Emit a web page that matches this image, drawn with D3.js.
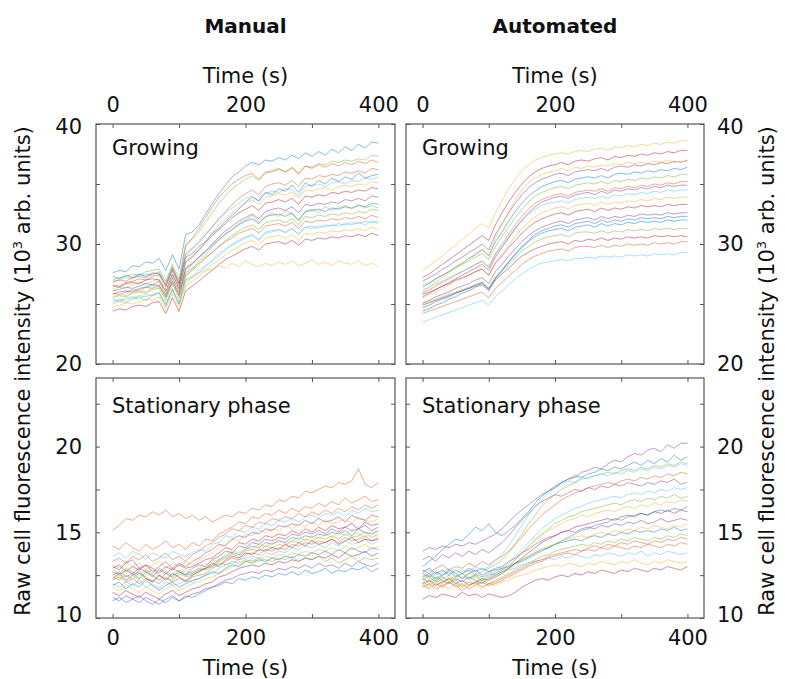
<!DOCTYPE html>
<html>
<head>
<meta charset="utf-8">
<script src="https://cdn.jsdelivr.net/npm/d3@7"></script>
<style>
  body { margin: 0; background: #fff; }
  svg text { font-family: "DejaVu Sans", Verdana, sans-serif; fill: #111; }
</style>
</head>
<body>
<svg id="fig" width="785" height="679"></svg>
<script>
// time points (s), shared by every trace
var times = [0,10,20,30,40,50,60,70,80,90,100,110,120,130,140,150,160,170,180,190,200,
             210,220,230,240,250,260,270,280,290,300,310,320,330,340,350,360,370,380,390,400];

var xTicks = [0,100,200,300,400], xLabels = [0,200,400];
var yTicksGrow = [20,25,30,35,40], yLabelsGrow = [20,30,40];
var yTicksStat = [10,12.5,15,17.5,20,22.5], yLabelsStat = [10,15,20];
var colTitles = ['Manual','Automated'];
var rowTitles = ['Growing','Stationary phase'];
var lineColors = ['#0072BD','#D95319','#EDB120','#7E2F8E','#77AC30','#4DBEEE','#A2142F'];

// Manual, growing (10^3 arb. units)
var growManual = [
 [27.6,27.8,27.7,28.2,28.1,28.5,28.4,28.8,27.8,29.1,27.9,30.8,31.0,31.6,32.5,33.4,34.2,34.9,35.6,36.0,36.5,36.8,36.6,37.0,36.9,37.2,37.0,37.4,37.1,37.6,37.3,37.7,37.4,37.9,37.6,38.1,37.8,38.3,38.0,38.5,38.4],
 [27.0,27.2,27.3,27.5,27.4,27.7,27.8,27.9,26.9,28.3,27.1,30.0,30.4,31.0,31.8,32.6,33.4,34.0,34.6,35.0,35.4,35.7,35.3,35.9,36.0,36.2,36.0,36.3,35.8,36.5,36.4,36.7,36.6,36.9,36.8,37.0,36.9,37.1,37.0,37.4,37.3],
 [26.6,26.5,26.8,26.9,27.1,27.0,27.3,27.4,26.4,27.8,26.5,29.1,29.6,30.1,30.8,31.4,32.1,32.7,33.3,33.8,34.2,34.5,34.1,34.8,35.0,35.1,34.9,35.3,34.8,35.5,35.4,35.7,35.6,35.8,35.7,36.0,35.9,36.1,35.9,36.3,36.2],
 [26.9,27.0,27.2,27.1,27.4,27.5,27.4,27.7,26.8,28.0,26.9,29.2,29.7,30.3,30.8,31.5,32.1,32.6,33.0,33.4,33.8,34.0,33.6,34.2,34.4,34.3,34.6,34.5,34.0,34.8,34.9,35.0,34.8,35.1,35.2,35.0,35.3,35.2,35.5,35.4,35.6],
 [26.2,26.4,26.3,26.6,26.8,26.7,26.9,27.1,26.0,27.4,26.2,28.6,29.0,29.6,30.2,30.9,31.6,32.1,32.6,33.1,33.4,33.7,33.3,33.9,34.0,34.2,34.1,34.3,33.8,34.5,34.4,34.6,34.7,34.5,34.8,34.9,34.8,35.0,34.9,35.2,35.1],
 [26.5,26.4,26.7,26.8,26.7,27.0,27.1,27.0,26.1,27.5,26.3,28.5,28.9,29.5,30.1,30.7,31.2,31.7,32.2,32.6,32.9,33.2,32.8,33.4,33.5,33.7,33.5,33.8,33.3,34.0,33.9,34.1,34.0,34.3,34.2,34.4,34.3,34.5,34.4,34.7,34.6],
 [25.8,26.0,26.1,26.0,26.3,26.4,26.6,26.5,25.6,26.9,25.7,27.9,28.3,28.9,29.4,30.0,30.6,31.1,31.5,31.9,32.2,32.5,32.1,32.7,32.9,33.0,32.8,33.1,32.6,33.3,33.2,33.4,33.3,33.5,33.4,33.7,33.6,33.8,33.6,34.0,33.9],
 [26.1,26.2,26.4,26.3,26.5,26.7,26.6,26.9,25.8,27.2,26.0,28.0,28.4,28.9,29.4,29.9,30.4,30.8,31.2,31.6,31.9,32.1,31.7,32.3,32.4,32.5,32.3,32.6,32.0,32.7,32.8,32.9,32.7,33.0,32.9,33.1,33.0,33.2,33.1,33.4,33.3],
 [25.5,25.7,25.6,25.9,26.0,25.9,26.2,26.3,25.3,26.7,25.5,27.4,27.8,28.3,28.8,29.3,29.8,30.3,30.7,31.1,31.4,31.6,31.2,31.8,31.9,32.0,31.8,32.1,31.6,32.3,32.2,32.4,32.3,32.5,32.4,32.6,32.5,32.7,32.6,32.9,32.8],
 [25.9,25.8,26.0,26.2,26.1,26.4,26.3,26.6,25.6,26.9,25.8,27.6,28.0,28.4,28.9,29.3,29.8,30.2,30.5,30.9,31.1,31.3,30.9,31.5,31.6,31.7,31.5,31.8,31.3,31.9,31.8,32.0,31.9,32.1,32.0,32.2,32.1,32.3,32.1,32.4,32.2],
 [25.2,25.4,25.3,25.5,25.7,25.6,25.8,26.0,25.0,26.3,25.1,27.0,27.3,27.8,28.2,28.7,29.2,29.6,30.0,30.3,30.6,30.8,30.4,31.0,31.1,31.2,31.0,31.3,30.8,31.4,31.3,31.5,31.4,31.6,31.5,31.7,31.6,31.8,31.6,31.9,31.7],
 [24.8,24.9,25.1,25.0,25.2,25.4,25.3,25.6,24.6,25.9,24.8,26.5,26.9,27.3,27.8,28.3,28.7,29.1,29.5,29.8,30.1,30.3,29.9,30.5,30.6,30.7,30.5,30.8,30.3,30.9,30.8,31.0,30.9,31.1,31.0,31.2,31.1,31.3,31.1,31.4,31.2],
 [24.4,24.6,24.5,24.8,24.9,24.8,25.1,25.2,24.2,25.5,24.4,26.1,26.5,26.9,27.4,27.8,28.3,28.7,29.0,29.3,29.6,29.8,29.5,30.0,30.1,30.2,30.0,30.3,29.9,30.4,30.3,30.5,30.4,30.6,30.5,30.7,30.6,30.8,30.6,30.9,30.7],
 [25.6,25.8,25.7,26.0,26.1,26.0,26.3,26.4,25.5,26.7,25.6,27.0,27.3,27.6,27.8,27.9,28.2,28.0,28.4,28.1,28.6,28.3,28.1,28.4,28.2,28.5,28.3,28.6,28.2,28.4,28.7,28.3,28.5,28.2,28.6,28.4,28.3,28.6,28.2,28.4,28.1],
 [27.3,27.1,27.4,27.2,27.5,27.3,27.6,27.5,26.6,27.9,26.7,28.9,29.2,29.8,30.2,30.9,31.3,31.9,32.4,32.9,33.5,33.9,33.6,34.3,34.1,34.6,34.4,34.9,34.3,35.1,34.8,35.3,35.0,35.5,35.2,35.6,35.4,35.9,35.5,35.7,35.8],
 [25.0,25.3,25.1,25.4,25.6,25.3,25.7,25.9,24.9,26.2,25.0,27.3,27.9,28.6,29.1,29.8,30.3,30.9,31.2,31.7,32.0,32.4,31.8,32.2,32.6,32.3,32.8,32.5,31.9,32.7,32.9,32.6,33.1,32.8,33.0,33.2,32.9,33.3,33.0,33.2,33.0],
 [26.8,27.0,26.9,27.2,27.3,27.2,27.5,27.6,26.5,28.1,26.7,29.8,30.5,31.3,32.2,33.1,33.9,34.5,35.0,35.4,35.7,35.9,35.4,36.0,36.1,36.3,36.0,36.4,35.9,36.5,36.3,36.6,36.4,36.7,36.5,36.8,36.6,36.9,36.7,37.0,36.8],
 [25.4,25.2,25.5,25.6,25.4,25.8,25.7,25.9,24.8,26.2,25.0,26.8,27.2,27.6,28.1,28.6,29.0,29.5,29.9,30.2,30.5,30.7,30.3,30.9,31.0,31.2,30.9,31.3,30.8,31.4,31.5,31.3,31.6,31.5,31.7,31.6,31.8,31.7,31.9,31.8,31.9]
];

// Automated, growing
var growAuto = [
 [27.8,28.2,28.6,29.0,29.5,29.9,30.4,30.8,31.3,31.7,31.3,32.6,33.6,34.6,35.4,36.1,36.6,37.0,37.2,37.4,37.5,37.6,37.5,37.7,37.8,37.7,37.9,38.0,37.8,38.1,38.0,38.2,38.1,38.3,38.2,38.4,38.3,38.5,38.4,38.6,38.6],
 [27.2,27.5,27.9,28.3,28.7,29.1,29.5,29.9,30.3,30.7,30.3,31.6,32.6,33.5,34.3,35.0,35.6,36.0,36.3,36.5,36.6,36.8,36.6,36.9,37.0,36.9,37.1,37.2,37.0,37.3,37.2,37.4,37.3,37.5,37.4,37.6,37.5,37.7,37.6,37.8,37.8],
 [26.9,27.2,27.5,27.9,28.2,28.6,28.9,29.3,29.6,30.0,29.5,30.8,31.7,32.6,33.4,34.1,34.7,35.1,35.4,35.6,35.8,35.9,35.7,36.0,36.1,36.2,36.1,36.3,36.1,36.4,36.5,36.4,36.6,36.5,36.7,36.6,36.8,36.7,36.9,36.8,37.0],
 [26.4,26.7,27.1,27.4,27.7,28.1,28.4,28.8,29.1,29.5,29.0,30.2,31.0,31.9,32.7,33.4,34.0,34.4,34.8,35.0,35.2,35.3,35.1,35.4,35.5,35.6,35.5,35.7,35.5,35.8,35.9,35.8,36.0,35.9,36.1,36.0,36.2,36.1,36.3,36.2,36.4],
 [26.6,26.8,27.1,27.4,27.7,28.0,28.3,28.6,28.9,29.2,28.7,29.8,30.6,31.4,32.2,32.9,33.5,34.0,34.3,34.5,34.7,34.8,34.6,34.9,35.0,35.1,35.0,35.2,35.0,35.3,35.2,35.4,35.3,35.5,35.4,35.6,35.5,35.7,35.6,35.8,35.8],
 [25.9,26.2,26.5,26.8,27.1,27.4,27.7,28.0,28.3,28.6,28.1,29.2,30.0,30.8,31.6,32.3,32.9,33.4,33.7,33.9,34.1,34.2,34.0,34.3,34.4,34.5,34.4,34.6,34.4,34.7,34.6,34.8,34.7,34.9,34.8,35.0,34.9,35.1,35.0,35.2,35.2],
 [26.2,26.4,26.7,26.9,27.2,27.5,27.7,28.0,28.3,28.5,28.0,29.1,29.8,30.6,31.3,31.9,32.5,32.9,33.2,33.4,33.5,33.6,33.4,33.7,33.8,33.9,33.8,34.0,33.8,34.1,34.0,34.2,34.1,34.3,34.2,34.4,34.3,34.5,34.4,34.5,34.5],
 [25.5,25.8,26.0,26.3,26.6,26.9,27.1,27.4,27.7,27.9,27.4,28.5,29.2,29.9,30.6,31.3,31.8,32.3,32.6,32.8,33.0,33.1,32.9,33.2,33.3,33.4,33.2,33.5,33.3,33.5,33.4,33.6,33.5,33.7,33.6,33.8,33.7,33.9,33.8,33.9,33.9],
 [25.8,26.0,26.2,26.5,26.7,27.0,27.2,27.4,27.7,27.9,27.4,28.4,29.0,29.7,30.3,30.9,31.4,31.8,32.1,32.3,32.5,32.6,32.4,32.7,32.8,32.9,32.7,33.0,32.8,33.0,32.9,33.1,33.0,33.2,33.1,33.2,33.1,33.3,33.2,33.3,33.3],
 [25.1,25.3,25.6,25.8,26.0,26.3,26.5,26.7,27.0,27.2,26.7,27.7,28.3,29.0,29.6,30.2,30.7,31.1,31.4,31.6,31.8,31.9,31.7,32.0,32.1,32.2,32.0,32.3,32.1,32.3,32.2,32.4,32.3,32.5,32.4,32.5,32.4,32.6,32.5,32.6,32.6],
 [24.7,24.9,25.2,25.4,25.6,25.9,26.1,26.3,26.6,26.8,26.3,27.2,27.8,28.5,29.1,29.7,30.2,30.6,30.9,31.1,31.2,31.3,31.1,31.4,31.5,31.6,31.4,31.7,31.5,31.7,31.6,31.8,31.7,31.9,31.8,31.9,31.8,32.0,31.9,32.0,32.0],
 [25.0,25.2,25.4,25.6,25.8,26.0,26.2,26.4,26.6,26.8,26.3,27.2,27.7,28.3,28.9,29.4,29.8,30.2,30.4,30.6,30.7,30.8,30.6,30.9,31.0,31.0,30.9,31.1,30.9,31.1,31.0,31.2,31.1,31.2,31.1,31.3,31.2,31.3,31.2,31.3,31.3],
 [24.2,24.4,24.6,24.8,25.0,25.2,25.4,25.6,25.8,26.0,25.5,26.3,26.8,27.3,27.8,28.3,28.7,29.0,29.2,29.4,29.5,29.6,29.4,29.7,29.8,29.8,29.7,29.9,29.7,29.9,29.8,30.0,29.9,30.0,29.9,30.1,30.0,30.1,30.0,30.2,30.2],
 [23.5,23.7,23.9,24.1,24.3,24.5,24.7,24.9,25.1,25.3,24.9,25.6,26.1,26.6,27.1,27.5,27.9,28.2,28.4,28.5,28.6,28.7,28.6,28.8,28.8,28.9,28.8,29.0,28.9,29.0,28.9,29.1,29.0,29.1,29.0,29.2,29.1,29.2,29.1,29.3,29.3],
 [26.0,26.4,26.8,27.2,27.6,28.0,28.4,28.8,29.2,29.6,29.1,30.5,31.6,32.7,33.7,34.5,35.1,35.5,35.8,36.0,36.1,36.3,36.1,36.4,36.3,36.5,36.4,36.6,36.5,36.7,36.6,36.8,36.7,36.8,36.7,36.9,36.8,37.0,36.8,36.9,36.9],
 [24.9,25.1,25.3,25.5,25.7,25.9,26.1,26.3,26.5,26.7,26.2,27.0,27.5,28.0,28.5,29.0,29.3,29.6,29.8,30.0,30.1,30.2,30.0,30.3,30.2,30.4,30.3,30.5,30.3,30.5,30.4,30.6,30.5,30.6,30.5,30.7,30.6,30.7,30.6,30.7,30.6],
 [25.6,25.9,26.2,26.5,26.8,27.1,27.4,27.7,28.0,28.3,27.8,28.9,29.7,30.5,31.3,32.0,32.6,33.1,33.5,33.7,33.9,34.0,33.8,34.1,34.2,34.3,34.1,34.4,34.2,34.5,34.4,34.6,34.5,34.7,34.6,34.8,34.7,34.9,34.8,34.9,34.9],
 [24.4,24.6,24.9,25.1,25.4,25.6,25.9,26.1,26.4,26.6,26.1,27.1,27.8,28.5,29.2,29.8,30.3,30.8,31.1,31.3,31.5,31.6,31.4,31.7,31.8,31.9,31.7,32.0,31.8,32.0,31.9,32.1,32.0,32.2,32.1,32.2,32.1,32.3,32.2,32.3,32.3]
];

// Manual, stationary phase
var statManual = [
 [14.2,14.0,14.4,14.1,13.9,14.3,14.0,14.2,14.5,14.1,14.3,14.0,14.4,14.2,14.6,14.5,14.9,15.1,15.3,15.6,15.5,15.9,15.8,16.1,16.0,16.3,16.1,16.4,16.2,16.5,16.4,16.7,16.5,16.8,16.6,17.0,16.7,16.9,17.1,16.8,16.9],
 [13.6,13.8,13.5,13.9,13.7,13.4,13.8,13.6,13.5,13.9,13.7,13.6,13.8,14.0,13.9,14.3,14.4,14.8,14.7,15.1,15.0,15.3,15.2,15.5,15.4,15.7,15.6,15.8,15.6,15.9,16.0,15.8,16.1,16.0,16.2,15.9,16.3,16.1,16.4,16.2,16.3],
 [13.1,12.9,13.3,13.0,13.2,12.8,13.1,13.3,12.9,13.2,13.0,13.3,13.1,13.4,13.6,13.8,14.1,14.3,14.6,14.5,14.9,14.8,15.1,15.0,15.2,15.1,15.4,15.2,15.5,15.3,15.6,15.4,15.7,15.5,15.6,15.8,15.5,15.9,15.7,15.6,15.8],
 [12.9,13.1,12.7,13.0,12.8,13.1,12.9,12.6,13.0,12.8,13.1,12.9,13.0,13.2,13.4,13.5,13.8,14.1,14.0,14.4,14.3,14.6,14.5,14.8,14.7,14.9,14.8,15.1,14.9,15.2,15.0,15.3,15.1,15.4,15.2,15.3,15.5,15.2,15.6,15.4,15.5],
 [12.7,12.5,12.8,12.6,12.9,12.7,12.4,12.8,12.6,12.9,12.7,12.5,12.9,13.1,13.0,13.4,13.6,13.9,13.8,14.2,14.1,14.4,14.3,14.6,14.5,14.7,14.6,14.9,14.8,15.0,14.9,15.1,14.9,15.2,15.0,15.3,15.1,15.2,15.4,15.1,15.3],
 [12.5,12.7,12.4,12.6,12.3,12.7,12.5,12.2,12.6,12.4,12.7,12.5,12.6,12.8,12.9,13.1,13.4,13.6,13.8,13.7,14.0,14.2,14.1,14.4,14.3,14.5,14.4,14.7,14.6,14.8,14.7,14.9,14.8,15.0,14.9,15.1,14.8,15.2,15.0,14.9,15.1],
 [12.4,12.2,12.5,12.3,12.6,12.4,12.1,12.5,12.3,12.2,12.6,12.4,12.5,12.7,12.9,13.0,13.3,13.5,13.7,13.6,13.9,14.0,13.9,14.2,14.1,14.3,14.2,14.5,14.4,14.6,14.5,14.7,14.6,14.8,14.6,14.9,14.7,14.8,15.0,14.7,14.9],
 [12.2,12.4,12.1,12.3,12.0,12.3,12.2,12.0,12.4,12.1,12.3,12.2,12.4,12.5,12.6,12.9,13.1,13.3,13.5,13.4,13.7,13.8,13.7,14.0,13.9,14.1,14.0,14.3,14.2,14.4,14.3,14.5,14.4,14.6,14.4,14.7,14.5,14.6,14.8,14.5,14.7],
 [12.0,11.8,12.1,11.9,12.2,11.8,12.0,11.7,12.1,11.9,12.0,12.2,12.1,12.3,12.5,12.6,12.9,13.1,13.2,13.4,13.5,13.6,13.5,13.8,13.7,13.9,13.8,14.1,14.0,14.2,14.1,14.3,14.1,14.4,14.2,14.5,14.3,14.4,14.6,14.3,14.5],
 [11.8,11.6,11.9,11.7,11.5,11.8,11.6,11.4,11.7,11.9,11.6,11.8,12.0,12.1,12.3,12.4,12.6,12.8,13.0,13.1,13.3,13.4,13.3,13.6,13.5,13.7,13.6,13.8,13.7,13.9,13.8,14.0,13.9,14.1,13.9,14.2,14.0,14.1,14.3,14.0,14.2],
 [11.5,11.3,11.6,11.4,11.2,11.5,11.3,11.1,11.4,11.6,11.3,11.5,11.7,11.8,12.0,12.1,12.4,12.5,12.7,12.9,13.0,13.1,13.0,13.2,13.1,13.3,13.2,13.4,13.3,13.5,13.4,13.6,13.5,13.7,13.5,13.8,13.6,13.7,13.9,13.6,13.8],
 [11.2,11.0,11.3,11.1,10.9,11.2,11.0,10.8,11.1,11.3,11.0,11.2,11.4,11.5,11.7,11.8,12.0,12.2,12.3,12.5,12.6,12.7,12.6,12.8,12.7,12.9,12.8,13.0,12.9,13.1,12.9,13.2,13.0,13.1,12.9,13.2,13.0,13.3,13.1,13.0,13.2],
 [11.0,11.2,10.9,11.1,11.3,11.0,10.8,11.1,10.9,11.2,11.0,11.3,11.2,11.4,11.6,11.8,11.9,12.1,12.0,12.3,12.2,12.4,12.3,12.5,12.4,12.6,12.5,12.7,12.5,12.8,12.6,12.7,12.9,12.6,12.8,12.7,12.9,12.8,13.0,12.7,12.9],
 [12.8,12.6,12.9,12.7,12.5,12.8,12.6,12.9,12.7,12.5,12.8,12.6,12.7,12.9,12.8,13.0,13.2,13.1,13.3,13.2,13.4,13.3,13.5,13.4,13.3,13.5,13.4,13.6,13.3,13.5,13.4,13.6,13.3,13.5,13.2,13.4,13.6,13.3,13.5,13.4,13.5],
 [13.3,13.5,13.2,13.6,13.4,13.7,13.3,13.5,13.8,13.4,13.6,13.3,13.7,13.9,14.2,14.4,14.7,14.9,15.2,15.1,15.4,15.3,15.6,15.5,15.8,15.7,15.9,15.8,16.1,15.9,16.2,16.0,16.3,16.1,16.4,16.2,16.5,16.3,16.6,16.4,16.6],
 [15.1,15.4,15.8,15.7,16.0,15.9,16.2,16.0,16.3,15.9,16.1,15.8,16.0,15.7,15.9,15.6,15.8,16.0,15.9,16.2,16.1,16.4,16.3,16.6,16.5,16.9,16.8,17.1,17.0,17.4,17.3,17.5,17.7,17.6,17.9,17.8,18.0,18.7,17.8,17.6,17.9],
 [12.6,12.3,12.8,12.5,12.2,12.6,12.9,12.4,12.7,12.3,12.5,12.8,12.6,12.9,13.1,13.4,13.3,13.7,13.9,13.8,14.1,14.0,14.3,14.2,14.4,14.6,14.3,14.5,14.7,14.5,14.8,14.6,14.9,14.7,15.0,14.8,15.1,14.9,14.7,15.1,15.0],
 [12.3,12.6,12.2,12.5,12.7,12.3,12.1,12.5,12.2,12.6,12.4,12.1,12.5,12.7,12.9,13.2,13.0,13.4,13.6,13.5,13.8,13.7,14.0,13.9,14.1,14.0,14.3,14.1,14.4,14.2,14.5,14.3,14.4,14.6,14.3,14.5,14.7,14.4,14.6,14.5,14.6],
 [13.0,12.8,13.2,13.4,12.9,13.1,12.7,13.0,13.3,12.9,13.2,13.0,13.3,13.5,13.8,14.0,14.3,14.2,14.6,14.8,14.7,15.0,14.9,15.2,15.1,15.4,15.3,15.5,15.4,15.7,15.5,15.8,15.6,15.7,15.9,15.6,16.0,15.8,15.7,16.0,15.9],
 [11.9,12.1,11.7,12.0,11.8,12.2,11.9,11.6,11.9,12.1,11.8,12.0,12.2,12.3,12.5,12.7,12.6,12.9,13.1,13.0,13.3,13.2,13.4,13.3,13.5,13.4,13.6,13.5,13.7,13.6,13.8,13.7,13.9,13.7,14.0,13.8,14.1,13.9,13.8,14.1,14.0]
];

// Automated, stationary phase
var statAuto = [
 [13.9,14.1,14.0,14.2,14.1,14.3,14.2,14.4,14.3,14.5,14.7,14.9,15.2,15.6,16.0,16.3,16.6,16.9,17.2,17.4,17.6,17.9,18.1,18.2,18.5,18.6,18.8,18.7,19.0,19.2,19.1,19.4,19.6,19.5,19.8,19.9,19.7,20.1,19.9,20.2,20.2],
 [13.0,13.3,13.6,14.0,14.3,14.6,14.5,14.9,15.3,15.1,15.5,15.0,14.8,15.1,15.4,15.8,16.2,16.7,17.1,17.4,17.7,17.9,18.1,18.3,18.2,18.4,18.5,18.7,18.6,18.8,18.7,18.9,19.1,18.9,19.2,19.0,19.3,19.1,19.5,19.2,19.4],
 [12.4,12.6,12.3,12.5,12.7,12.4,12.6,12.8,12.5,12.7,12.9,13.1,13.4,13.8,14.3,14.9,15.5,16.0,16.5,16.9,17.2,17.5,17.7,17.9,18.1,18.2,18.3,18.4,18.5,18.4,18.6,18.7,18.6,18.8,18.7,18.9,18.8,19.0,18.9,19.1,19.0],
 [12.8,12.6,12.9,13.1,12.8,13.0,12.9,13.2,13.0,13.3,13.1,13.4,13.6,13.9,14.3,14.7,15.2,15.6,16.0,16.3,16.6,16.9,17.1,17.3,17.4,17.6,17.7,17.8,17.9,17.8,18.0,18.1,18.0,18.2,18.1,18.3,18.2,18.4,18.3,18.5,18.4],
 [12.2,12.4,12.1,12.3,12.5,12.2,12.4,12.3,12.6,12.4,12.5,12.7,12.9,13.2,13.6,14.0,14.4,14.8,15.2,15.5,15.8,16.0,16.2,16.4,16.5,16.7,16.8,16.9,17.0,17.1,17.0,17.2,17.3,17.2,17.4,17.3,17.5,17.4,17.6,17.5,17.6],
 [12.5,12.3,12.6,12.4,12.2,12.5,12.3,12.6,12.4,12.2,12.5,12.6,12.8,13.1,13.4,13.8,14.1,14.5,14.8,15.1,15.3,15.5,15.7,15.8,16.0,15.9,16.1,16.2,16.3,16.2,16.4,16.5,16.4,16.6,16.5,16.7,16.6,16.8,16.7,16.9,16.8],
 [12.0,12.2,11.9,12.1,12.3,12.0,12.2,11.9,12.1,12.3,12.2,12.4,12.6,12.9,13.2,13.5,13.8,14.1,14.4,14.6,14.8,15.0,15.1,15.3,15.4,15.5,15.6,15.7,15.8,15.7,15.9,16.0,15.9,16.1,16.0,16.2,16.1,16.3,16.1,16.3,16.2],
 [12.6,12.4,12.7,12.5,12.8,12.6,12.3,12.6,12.8,12.5,12.7,12.9,13.0,13.3,13.5,13.8,14.0,14.3,14.5,14.7,14.8,15.0,15.1,15.0,15.2,15.3,15.2,15.4,15.3,15.5,15.4,15.6,15.5,15.7,15.5,15.6,15.8,15.6,15.7,15.8,15.7],
 [12.3,12.1,12.4,12.2,12.0,12.3,12.1,12.4,12.2,12.0,12.3,12.5,12.7,12.9,13.2,13.4,13.6,13.8,14.0,14.1,14.3,14.4,14.5,14.6,14.5,14.7,14.8,14.7,14.9,14.8,15.0,14.9,15.1,15.0,15.1,15.0,15.2,15.1,15.3,15.1,15.2],
 [12.1,11.9,12.2,12.0,12.3,12.1,11.8,12.1,12.0,12.2,12.0,12.2,12.4,12.6,12.8,13.0,13.2,13.4,13.6,13.7,13.9,14.0,14.1,14.2,14.3,14.2,14.4,14.3,14.5,14.4,14.6,14.5,14.7,14.6,14.5,14.7,14.6,14.8,14.7,14.9,14.8],
 [11.8,12.0,11.7,11.9,12.1,11.8,12.0,11.7,11.9,12.1,11.9,12.0,12.2,12.4,12.6,12.8,13.0,13.2,13.3,13.5,13.6,13.7,13.8,13.7,13.9,14.0,13.9,14.1,14.0,14.2,14.1,14.0,14.2,14.1,14.3,14.2,14.1,14.3,14.2,14.4,14.3],
 [12.4,12.6,12.3,12.5,12.7,12.4,12.6,12.3,12.5,12.4,12.6,12.5,12.7,12.8,12.9,13.1,13.2,13.3,13.4,13.5,13.4,13.6,13.5,13.7,13.6,13.5,13.7,13.6,13.8,13.7,13.6,13.8,13.7,13.9,13.6,13.8,13.7,13.9,13.8,13.7,13.8],
 [12.0,11.8,12.1,11.9,11.7,12.0,11.8,12.1,11.9,11.7,12.0,11.9,12.1,12.2,12.4,12.5,12.6,12.8,12.9,13.0,13.1,13.0,13.2,13.1,13.0,13.2,13.1,13.3,13.2,13.1,13.3,13.2,13.4,13.2,13.1,13.3,13.2,13.4,13.3,13.2,13.3],
 [11.1,11.3,11.2,11.4,11.3,11.2,11.5,11.3,11.4,11.2,11.4,11.3,11.2,11.3,11.5,11.8,12.0,12.2,12.3,12.2,12.4,12.5,12.4,12.6,12.5,12.7,12.6,12.8,12.7,12.6,12.8,12.7,12.9,12.8,12.7,12.9,12.8,13.0,12.9,12.8,13.0],
 [13.4,13.6,13.3,13.7,13.5,13.8,13.6,13.9,13.7,14.0,13.8,14.1,14.4,14.8,15.3,15.7,16.1,16.5,16.8,17.0,17.2,17.1,17.3,17.5,17.4,17.6,17.5,17.7,17.6,17.8,17.7,17.9,17.8,17.7,17.9,17.8,18.0,17.9,18.1,17.8,17.9],
 [12.7,12.9,12.6,12.8,12.5,12.8,12.6,12.9,12.7,12.9,12.7,12.8,12.9,13.0,13.2,13.3,13.5,13.7,13.9,14.1,14.3,14.5,14.7,14.9,15.1,15.2,15.4,15.5,15.6,15.8,15.7,15.9,16.0,16.1,16.0,16.2,16.3,16.2,16.4,16.3,16.5],
 [12.3,12.5,12.2,12.4,12.1,12.4,12.6,12.3,12.5,12.2,12.4,12.6,12.8,13.0,13.4,13.8,14.2,14.6,14.9,15.2,15.5,15.7,15.9,16.0,16.2,16.3,16.4,16.5,16.6,16.7,16.6,16.8,16.9,16.8,17.0,16.9,17.1,17.0,17.2,17.0,17.1],
 [11.9,11.7,12.0,11.8,12.1,11.9,11.6,11.9,12.1,11.8,12.0,12.1,12.3,12.5,12.7,12.9,13.1,13.3,13.4,13.6,13.7,13.8,13.9,14.0,13.9,14.1,14.2,14.1,14.3,14.2,14.4,14.3,14.5,14.4,14.3,14.5,14.4,14.6,14.5,14.7,14.6],
 [12.6,12.8,12.5,12.7,12.9,12.6,12.8,12.7,13.0,12.8,13.0,13.3,13.7,14.2,14.8,15.4,16.0,16.5,16.9,17.3,17.6,17.8,18.0,17.9,18.2,18.1,18.3,18.4,18.3,18.5,18.4,18.6,18.5,18.7,18.6,18.8,18.7,18.9,18.8,19.0,18.9],
 [12.2,12.0,12.3,12.1,12.4,12.2,11.9,12.2,12.4,12.1,12.3,12.4,12.6,12.8,13.1,13.3,13.6,13.8,14.0,14.2,14.3,14.5,14.6,14.7,14.8,14.7,14.9,15.0,14.9,15.1,15.0,15.2,15.1,15.3,15.2,15.4,15.3,15.2,15.4,15.3,15.5]
];

(function () {
    var svg = d3.select('#fig'),
        fontPx = 21,
        frameCol = '#555',
        cols = [{x0: 96, x1: 395}, {x0: 406, x1: 704}],
        rows = [{y0: 124, y1: 364, dom: [20, 40], ticks: yTicksGrow, labels: yLabelsGrow, titleY: 31},
                {y0: 378, y1: 618, dom: [10, 24], ticks: yTicksStat, labels: yLabelsStat, titleY: 35}],
        panelData = [[growManual, growAuto], [statManual, statAuto]],
        // the two lone outlier cells keep the colour they have in the figure
        fixedColor = {'0-0-13': '#EDB120', '1-0-15': '#D95319'};

    function traceColor(r, c, i) {
        var k = r + '-' + c + '-' + i;
        if (fixedColor[k]) return fixedColor[k];
        return lineColors[(i * 4 + r + c * 2) % lineColors.length];
    }

    // column titles
    colTitles.forEach(function (t, c) {
        var cx = (cols[c].x0 + cols[c].x1) / 2;
        svg.append('text')
            .attr('x', cx).attr('y', 33)
            .attr('text-anchor', 'middle')
            .style('font-size', '20px').style('font-weight', 'bold')
            .text(t);
        // top and bottom x titles
        svg.append('text')
            .attr('x', cx).attr('y', 83)
            .attr('text-anchor', 'middle').style('font-size', fontPx + 'px')
            .text('Time (s)');
        svg.append('text')
            .attr('x', cx).attr('y', 675)
            .attr('text-anchor', 'middle').style('font-size', fontPx + 'px')
            .text('Time (s)');
    });

    // y titles, both reading upward
    [30, 774].forEach(function (bx) {
        var t = svg.append('text')
            .attr('transform', 'translate(' + bx + ',371) rotate(-90)')
            .attr('text-anchor', 'middle').style('font-size', fontPx + 'px');
        t.append('tspan').text('Raw cell fluorescence intensity (10');
        t.append('tspan').attr('dy', -8).style('font-size', '13px').text('3');
        t.append('tspan').attr('dy', 8).text(' arb. units)');
    });

    var defs = svg.append('defs');

    rows.forEach(function (rw, r) {
        cols.forEach(function (cl, c) {
            var x = d3.scaleLinear().domain([-25, 425]).range([cl.x0, cl.x1]),
                y = d3.scaleLinear().domain(rw.dom).range([rw.y1, rw.y0]),
                id = 'clip' + r + c;

            defs.append('clipPath').attr('id', id).append('rect')
                .attr('x', cl.x0).attr('y', rw.y0)
                .attr('width', cl.x1 - cl.x0).attr('height', rw.y1 - rw.y0);

            var line = d3.line()
                .defined(function (d, i) { return i < times.length; })
                .x(function (d, i) { return x(times[i]); })
                .y(function (d) { return y(d); });

            svg.append('g').attr('clip-path', 'url(#' + id + ')')
                .selectAll('path').data(panelData[r][c])
                .enter().append('path')
                .attr('d', line)
                .attr('fill', 'none')
                .attr('stroke', function (d, i) { return traceColor(r, c, i); })
                .attr('stroke-width', 0.8)
                .attr('stroke-opacity', 0.6);

            var xfmt = function (show) {
                    return function (d) { return show && xLabels.indexOf(d) > -1 ? d : ''; };
                },
                yfmt = function (show) {
                    return function (d) { return show && rw.labels.indexOf(d) > -1 ? d : ''; };
                };

            var axes = [
                {a: d3.axisTop(x).tickValues(xTicks).tickFormat(xfmt(r === 0)).tickPadding(12), t: 'translate(0,' + rw.y0 + ')'},
                {a: d3.axisBottom(x).tickValues(xTicks).tickFormat(xfmt(r === 1)).tickPadding(12), t: 'translate(0,' + rw.y1 + ')'},
                {a: d3.axisLeft(y).tickValues(rw.ticks).tickFormat(yfmt(c === 0)).tickPadding(14), t: 'translate(' + cl.x0 + ',0)'},
                {a: d3.axisRight(y).tickValues(rw.ticks).tickFormat(yfmt(c === 1)).tickPadding(13), t: 'translate(' + cl.x1 + ',0)'}
            ];
            axes.forEach(function (ax) {
                var g = svg.append('g').attr('transform', ax.t)
                    .call(ax.a.tickSizeInner(-4).tickSizeOuter(0));
                g.select('.domain').remove();
                g.selectAll('.tick line').attr('stroke', frameCol);
                g.selectAll('.tick text')
                    .style('font-size', fontPx + 'px')
                    .style('font-family', '"DejaVu Sans", Verdana, sans-serif')
                    .attr('fill', '#111');
            });

            // frame
            svg.append('rect')
                .attr('x', cl.x0).attr('y', rw.y0)
                .attr('width', cl.x1 - cl.x0).attr('height', rw.y1 - rw.y0)
                .attr('fill', 'none').attr('stroke', frameCol).attr('stroke-width', 1.2);

            svg.append('text')
                .attr('x', cl.x0 + 16).attr('y', rw.y0 + rw.titleY)
                .style('font-size', fontPx + 'px')
                .text(rowTitles[r]);
        });
    });

    // keep the end labels inside the panel rows like the original
    svg.selectAll('.tick text').each(function (d) {
        var el = d3.select(this);
        if (d === 40) el.attr('dy', '0.45em');
        if (d === 10) el.attr('dy', '0.15em');
    });
})();
</script>
</body>
</html>
